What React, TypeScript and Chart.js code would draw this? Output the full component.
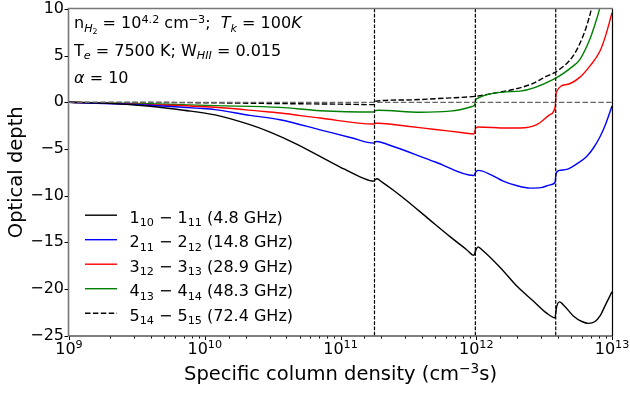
import React, { useEffect, useRef } from 'react';
import { Chart, registerables } from 'chart.js';

Chart.register(...registerables);

const FONT = '"DejaVu Sans", sans-serif';

// ---- axis ranges ----
const xRange = [1e9, 1e13];
const yRange = [-25, 10];
const yStep = 5;

// ---- vertical dashed lines (level boundaries) ----
const boundaryX = [1.78e11, 9.85e11, 3.85e12];

// ---- series: 1_10 - 1_11 (4.8 GHz) ----
const blackX = [1e9, 2e9, 3.95e9, 7e9, 1.19e10, 2.15e10, 3.03e10, 4.62e10, 7.07e10, 1.08e11, 1.45e11, 1.76e11, 1.8e11, 1.86e11, 2.0e11, 2.44e11, 3.08e11, 4.5e11, 6.41e11, 8.5e11, 9.6e11, 9.9e11, 1.03e12, 1.1e12, 1.5e12, 1.99e12, 2.63e12, 3.3e12, 3.8e12, 3.9e12, 4.1e12, 4.5e12, 5.19e12, 6.0e12, 6.69e12, 7.5e12, 8.16e12, 8.9e12, 1e13];
const blackY = [0, -0.12, -0.43, -0.85, -1.35, -2.4, -3.2, -4.4, -5.8, -7.2, -8.1, -8.45, -8.3, -8.2, -8.5, -9.4, -10.55, -12.55, -14.4, -15.8, -16.4, -15.9, -15.5, -15.8, -17.7, -19.7, -21.3, -22.6, -23.1, -22.0, -21.4, -21.9, -22.9, -23.5, -23.7, -23.5, -22.9, -21.8, -20.3];

// ---- series: 2_11 - 2_12 (14.8 GHz) ----
const blueX = [1e9, 3.95e9, 9.2e9, 1.19e10, 2.15e10, 3.58e10, 7.07e10, 1.2e11, 1.76e11, 1.8e11, 1.86e11, 2.2e11, 5e11, 9.6e11, 9.9e11, 1.03e12, 1.3e12, 1.58e12, 2.0e12, 2.49e12, 3.0e12, 3.5e12, 3.8e12, 3.88e12, 4.1e12, 4.64e12, 5.5e12, 6.51e12, 7.3e12, 8.16e12, 9e12, 1e13];
const blueY = [0, -0.32, -0.65, -0.79, -1.4, -1.87, -2.95, -3.8, -4.38, -4.25, -4.2, -4.5, -6.4, -7.85, -7.5, -7.3, -7.8, -8.45, -8.95, -9.2, -9.15, -8.85, -8.6, -7.6, -7.3, -7.2, -6.6, -5.8, -4.9, -3.7, -2.3, -0.4];

// ---- series: 3_12 - 3_13 (28.9 GHz) ----
const redX = [1e9, 3.95e9, 1.19e10, 2.55e10, 3.58e10, 7.07e10, 1.76e11, 1.8e11, 1.9e11, 3e11, 5e11, 8e11, 9.6e11, 9.9e11, 1.03e12, 1.68e12, 2.1e12, 2.79e12, 3.49e12, 3.82e12, 3.88e12, 4.64e12, 5.81e12, 6.89e12, 8.16e12, 9.0e12, 1e13];
const redY = [0, -0.25, -0.54, -0.95, -1.15, -1.69, -2.33, -2.25, -2.25, -2.54, -2.92, -3.26, -3.4, -2.8, -2.65, -2.76, -2.76, -2.4, -1.33, -0.45, 1.05, 1.9, 2.7, 3.9, 5.5, 7.2, 9.6];

// ---- series: 4_13 - 4_14 (48.3 GHz) ----
const greenX = [1e9, 3.95e9, 1.19e10, 3.58e10, 7.07e10, 1.76e11, 1.8e11, 1.9e11, 3.86e11, 6.4e11, 7.6e11, 9.3e11, 9.7e11, 1.0e12, 2.1e12, 3.7e12, 5.19e12, 5.81e12, 6.89e12, 7.28e12, 8.16e12, 8.5e12];
const greenY = [0, -0.15, -0.36, -0.55, -0.9, -1.04, -0.9, -0.85, -1.07, -0.95, -0.8, -0.45, -0.3, 0.37, 1.2, 2.45, 3.9, 4.6, 6.8, 7.8, 10.2, 11.5];

// ---- series: 5_14 - 5_15 (72.4 GHz) ----
const dashX = [1e9, 1e10, 3.58e10, 1e11, 1.76e11, 1.8e11, 3e11, 6e11, 1e12, 1.26e12, 1.87e12, 2.6e12, 3.3e12, 3.95e12, 5.19e12, 6.0e12, 6.51e12, 7.1e12, 7.5e12];
const dashY = [0, -0.05, -0.14, -0.2, -0.25, 0.1, 0.25, 0.45, 0.65, 0.9, 1.37, 2.0, 2.8, 3.35, 5.0, 6.8, 8.2, 10.2, 12];

// ---- legend ----
const seriesColors = ['#000000', '#0000ff', '#ff0000', '#008000', '#000000'];
const seriesDash: number[][] = [[], [], [], [], [5.5, 2.4]];
const levelJ = ['1', '2', '3', '4', '5'];
const kLow = ['10', '11', '12', '13', '14'];
const kHigh = ['11', '12', '13', '14', '15'];
const freqLabels = ['4.8 GHz', '14.8 GHz', '28.9 GHz', '48.3 GHz', '72.4 GHz'];

type Seg = [string, string];

const annotationLines: Seg[][] = [
  [['n', 'n'], ['H', 'isub'], ['2', 'ssub'], [' = 10', 'n'], ['4.2', 'sup'], [' cm', 'n'], ['\u22123', 'sup'], [';  ', 'n'], ['T', 'i'], ['k', 'isub'], [' = 100', 'n'], ['K', 'i']],
  [['T', 'n'], ['e', 'isub'], [' = 7500 K; W', 'n'], ['HII', 'isub'], [' = 0.015', 'n']],
  [['\u03b1', 'i'], [' = 10', 'n']],
];
const xTitle: Seg[] = [['Specific column density (cm', 'n'], ['\u22123', 'sup'], ['s)', 'n']];

function segStyle(m: string, size: number) {
  let fs = size;
  let dy = 0;
  let it = m === 'i';
  if (m === 'sub' || m === 'isub') { fs = size * 0.7; dy = size * 0.22; it = m === 'isub'; }
  if (m === 'sup') { fs = size * 0.7; dy = -size * 0.36; }
  if (m === 'ssub') { fs = size * 0.49; dy = size * 0.38; }
  return { font: `${it ? 'italic ' : ''}${fs}px ${FONT}`, dy };
}

function richWidth(ctx: CanvasRenderingContext2D, segs: Seg[], size: number) {
  let w = 0;
  for (const [t, m] of segs) {
    ctx.font = segStyle(m, size).font;
    w += ctx.measureText(t).width;
  }
  return w;
}

function drawRich(ctx: CanvasRenderingContext2D, x: number, y: number, segs: Seg[], size: number) {
  let cx = x;
  ctx.textBaseline = 'alphabetic';
  ctx.textAlign = 'left';
  for (const [t, m] of segs) {
    const st = segStyle(m, size);
    ctx.font = st.font;
    ctx.fillText(t, cx, y + st.dy);
    cx += ctx.measureText(t).width;
  }
}

const pts = (xs: number[], ys: number[]) => xs.map((x, i) => ({ x, y: ys[i] }));

const isPow10 = (v: number) => {
  const l = Math.log10(v);
  return Math.abs(l - Math.round(l)) < 1e-6;
};

const decorPlugin = {
  id: 'decor',
  afterDraw(chart: any) {
    const ctx: CanvasRenderingContext2D = chart.ctx;
    const { left, right, top, bottom } = chart.chartArea;
    const xs = chart.scales.x;
    const ys = chart.scales.y;
    ctx.save();
    // spines
    ctx.lineWidth = 1.2;
    ctx.strokeStyle = '#000';
    ctx.beginPath();
    ctx.moveTo(left, bottom + 0.5);
    ctx.lineTo(right + 0.5, bottom + 0.5);
    ctx.lineTo(right + 0.5, top);
    ctx.stroke();
    ctx.strokeStyle = '#777';
    ctx.lineWidth = 1.6;
    ctx.beginPath();
    ctx.moveTo(left - 0.5, bottom + 1);
    ctx.lineTo(left - 0.5, top - 0.5);
    ctx.lineTo(right + 1, top - 0.5);
    ctx.stroke();
    // tick marks
    ctx.strokeStyle = '#000';
    ctx.lineWidth = 1;
    ctx.beginPath();
    for (const t of xs.ticks) {
      const px = Math.round(xs.getPixelForValue(t.value)) + 0.5;
      const len = isPow10(t.value) ? 3.5 : 2;
      ctx.moveTo(px, bottom + 1);
      ctx.lineTo(px, bottom + 1 + len);
    }
    for (const t of ys.ticks) {
      const py = Math.round(ys.getPixelForValue(t.value)) + 0.5;
      ctx.moveTo(left - 1, py);
      ctx.lineTo(left - 1 - 3.5, py);
    }
    ctx.stroke();

    ctx.fillStyle = '#000';
    // x tick labels (10^n)
    for (const t of xs.ticks) {
      if (!isPow10(t.value)) continue;
      const e = Math.round(Math.log10(t.value));
      const segs: Seg[] = [['10', 'n'], [String(e), 'sup']];
      const w = richWidth(ctx, segs, 16);
      drawRich(ctx, xs.getPixelForValue(t.value) - w / 2, bottom + 18, segs, 16);
    }
    // x title
    {
      const w = richWidth(ctx, xTitle, 19.5);
      drawRich(ctx, (left + right) / 2 - w / 2, 380, xTitle, 19.5);
    }

    // annotation text
    const annBase = [28.3, 55.5, 83.3];
    annotationLines.forEach((segs, i) => drawRich(ctx, left + 5, annBase[i], segs, 16));

    // legend
    const base0 = 222.5;
    const step = 24.5;
    for (let i = 0; i < levelJ.length; i++) {
      const by = base0 + i * step;
      const ly = by - 7.3;
      ctx.strokeStyle = seriesColors[i];
      ctx.lineWidth = 1.4;
      ctx.setLineDash(seriesDash[i]);
      ctx.beginPath();
      ctx.moveTo(left + 16, ly);
      ctx.lineTo(left + 48, ly);
      ctx.stroke();
      ctx.setLineDash([]);
      const segs: Seg[] = [
        [levelJ[i], 'n'], [kLow[i], 'sub'], [' \u2212 ', 'n'], [levelJ[i], 'n'], [kHigh[i], 'sub'], [` (${freqLabels[i]})`, 'n'],
      ];
      drawRich(ctx, left + 60.5, by, segs, 16);
    }
    ctx.restore();
  },
};

export default function App() {
  const ref = useRef<HTMLCanvasElement>(null);
  useEffect(() => {
    const curveData = [
      pts(blackX, blackY),
      pts(blueX, blueY),
      pts(redX, redY),
      pts(greenX, greenY),
      pts(dashX, dashY),
    ];
    const datasets: any[] = [];
    boundaryX.forEach((bx) => {
      datasets.push({
        data: [{ x: bx, y: yRange[0] }, { x: bx, y: yRange[1] }],
        borderColor: '#000',
        borderWidth: 1.2,
        borderDash: [3.7, 1.6],
        pointRadius: 0,
        order: 1,
      });
    });
    datasets.push({
      data: [{ x: xRange[0], y: 0 }, { x: xRange[1], y: 0 }],
      borderColor: '#666',
      borderWidth: 1.3,
      borderDash: [5.5, 2.4],
      pointRadius: 0,
      order: 2,
    });
    curveData.forEach((d, i) => {
      datasets.push({
        data: d,
        borderColor: seriesColors[i],
        borderWidth: 1.4,
        borderDash: seriesDash[i],
        pointRadius: 0,
        cubicInterpolationMode: 'monotone',
        order: 3 + i,
      });
    });

    const chart = new Chart(ref.current!, {
      type: 'line',
      data: { datasets },
      plugins: [decorPlugin],
      options: {
        animation: false,
        responsive: false,
        devicePixelRatio: 1,
        parsing: false,
        layout: { padding: { top: 9, right: 18, left: 0, bottom: 0 } },
        plugins: { legend: { display: false }, tooltip: { enabled: false } },
        scales: {
          x: {
            type: 'logarithmic',
            min: xRange[0],
            max: xRange[1],
            afterFit: (s: any) => { s.height = 57.5; s.paddingLeft = 0; s.paddingRight = 0; },
            grid: { display: false, drawTicks: false },
            border: { display: false },
            ticks: { display: false, autoSkip: false },
          },
          y: {
            type: 'linear',
            min: yRange[0],
            max: yRange[1],
            afterFit: (s: any) => { s.width = 69; s.paddingTop = 0; s.paddingBottom = 0; },
            grid: { display: false, drawTicks: false },
            border: { display: false },
            ticks: {
              stepSize: yStep,
              padding: 5,
              color: '#000',
              font: { family: FONT, size: 16 },
              callback: (v: any) => (Number(v) < 0 ? '\u2212' + Math.abs(Number(v)) : String(v)),
            },
            title: {
              display: true,
              text: 'Optical depth',
              color: '#000',
              font: { family: FONT, size: 19.5 },
              padding: { top: 5.5, bottom: 0 },
            },
          },
        },
      },
    } as any);
    return () => chart.destroy();
  }, []);
  return (
    <div style={{ position: 'absolute', left: 0, top: 0, width: 630, height: 393 }}>
      <canvas ref={ref} width={630} height={393} style={{ display: 'block', width: 630, height: 393 }} />
    </div>
  );
}
